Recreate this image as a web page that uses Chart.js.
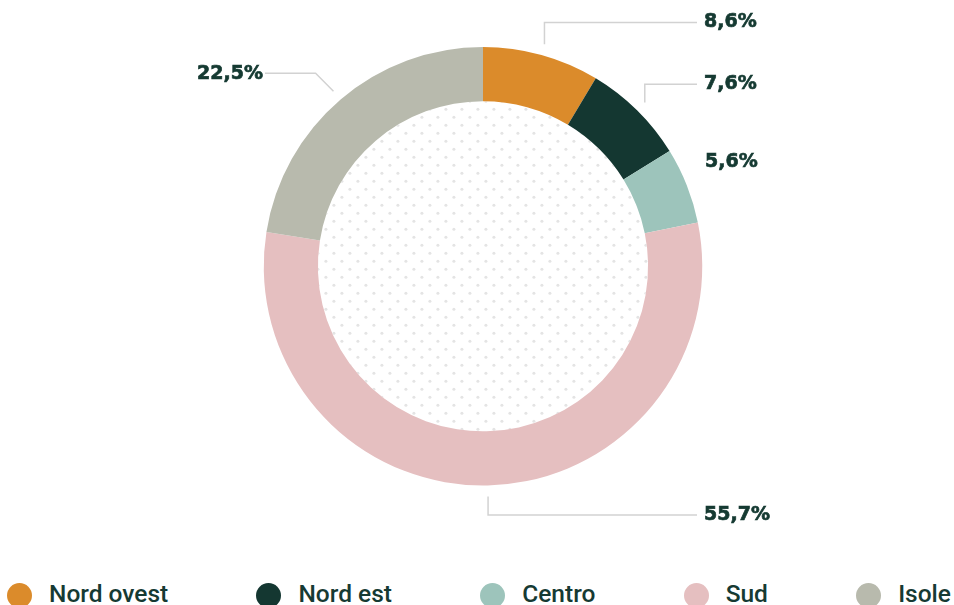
<!DOCTYPE html>
<html>
<head>
<meta charset="utf-8">
<script src="https://cdn.jsdelivr.net/npm/chart.js@4"></script>
<style>
  html, body { margin: 0; padding: 0; background: #fff; }
  #wrap { position: relative; width: 954px; height: 605px; overflow: hidden; }
  #box { position: absolute; left: 0; top: 0; width: 954px; height: 560px; }
  #legend {
    position: absolute; left: 7px; right: 3px; top: 581px;
    display: flex; justify-content: space-between; align-items: center;
    font-family: Roboto, "Noto Sans", sans-serif; font-weight: 500; font-size: 24.5px;
    color: #163a33;
  }
  .item { display: flex; align-items: center; }
  .item span.txt { position: relative; top: -2px; }
  .dot { width: 25px; height: 25px; border-radius: 50%; margin-right: 17px; }
</style>
</head>
<body>
<div id="wrap">
  <div id="box"><canvas id="chart"></canvas></div>
  <div id="legend"></div>
</div>
<script>
// regions and their share (%)
const regions = ['Nord ovest', 'Nord est', 'Centro', 'Sud', 'Isole'];
const shares = [8.6, 7.6, 5.6, 55.7, 22.5];
const shareLabels = ['8,6%', '7,6%', '5,6%', '55,7%', '22,5%'];
const colors = ['#db8b2b', '#143731', '#9dc4bb', '#e5bfc0', '#b8baad'];

const textColor = '#153a32';
const lineColor = '#d2d2d2';

// callout layout: how each label is hooked to its slice
const callouts = [
  { kind: 'right', y: 22.5 },
  { kind: 'right', y: 84.3 },
  { kind: 'none', y: 162.5 },
  { kind: 'right', y: 515 },
  { kind: 'left', y: 73.3 }
];

// dotted fill inside the hole
const dotsPlugin = {
  id: 'dots',
  beforeDatasetsDraw(chart) {
    const arc = chart.getDatasetMeta(0).data[0];
    if (!arc) return;
    const { x, y, innerRadius } = arc.getProps(['x', 'y', 'innerRadius'], true);
    const ctx = chart.ctx;
    ctx.save();
    ctx.beginPath();
    ctx.arc(x, y, innerRadius, 0, Math.PI * 2);
    ctx.clip();
    ctx.fillStyle = '#e4e4e4';
    let row = 0;
    for (let yy = y - innerRadius - 8; yy < y + innerRadius + 8; yy += 8, row++) {
      const off = row % 2 ? 8 : 0;
      for (let xx = x - innerRadius - 16 + off; xx < x + innerRadius + 16; xx += 16) {
        ctx.beginPath();
        ctx.arc(xx, yy, 1.5, 0, Math.PI * 2);
        ctx.fill();
      }
    }
    ctx.restore();
  }
};

// percentage labels with leader lines
const calloutPlugin = {
  id: 'callouts',
  afterDatasetsDraw(chart) {
    const ctx = chart.ctx;
    const arcs = chart.getDatasetMeta(0).data;
    ctx.save();
    ctx.textBaseline = 'middle';
    arcs.forEach((arc, i) => {
      const p = arc.getProps(['x', 'y', 'startAngle', 'endAngle', 'outerRadius'], true);
      const mid = (p.startAngle + p.endAngle) / 2;
      const r = p.outerRadius + 11;
      const ax = p.x + Math.cos(mid) * r;
      const ay = p.y + Math.sin(mid) * r;
      const c = callouts[i];
      const rightX = 697;
      let tx, ty;
      ctx.strokeStyle = lineColor;
      ctx.lineWidth = 1.5;
      if (c.kind === 'right') {
        ctx.beginPath();
        ctx.moveTo(ax, ay);
        ctx.lineTo(ax, c.y);
        ctx.lineTo(rightX, c.y);
        ctx.stroke();
        ctx.textAlign = 'left';
        tx = rightX + 7; ty = c.y;
      } else if (c.kind === 'left') {
        const dy = ay - c.y;
        ctx.beginPath();
        ctx.moveTo(ax, ay);
        ctx.lineTo(ax - dy, c.y);
        ctx.lineTo(265, c.y);
        ctx.stroke();
        ctx.textAlign = 'right';
        tx = 263; ty = c.y + 1;
      } else {
        ctx.textAlign = 'left';
        tx = rightX + 8; ty = c.y;
      }
      ctx.font = 'bold 19px "DejaVu Sans", sans-serif';
      ctx.fillStyle = textColor;
      ctx.strokeStyle = textColor;
      ctx.lineWidth = 0.7;
      ctx.fillText(shareLabels[i], tx, ty);
      ctx.strokeText(shareLabels[i], tx, ty);
    });
    ctx.restore();
  }
};

new Chart(document.getElementById('chart'), {
  type: 'doughnut',
  data: {
    labels: regions,
    datasets: [{
      data: shares,
      backgroundColor: colors,
      borderWidth: 0,
      hoverBorderWidth: 0,
      hoverOffset: 0
    }]
  },
  options: {
    responsive: true,
    maintainAspectRatio: false,
    animation: false,
    cutout: '75.3%',
    layout: { padding: { top: 47, bottom: 74.5, left: 12, right: 0 } },
    plugins: {
      legend: { display: false },
      tooltip: { enabled: false }
    },
    events: []
  },
  plugins: [dotsPlugin, calloutPlugin]
});

// legend row
const legend = document.getElementById('legend');
regions.forEach((name, i) => {
  const item = document.createElement('div');
  item.className = 'item';
  item.innerHTML = '<span class="dot" style="background:' + colors[i] + '"></span><span class="txt">' + name + '</span>';
  legend.appendChild(item);
});
</script>
</body>
</html>
